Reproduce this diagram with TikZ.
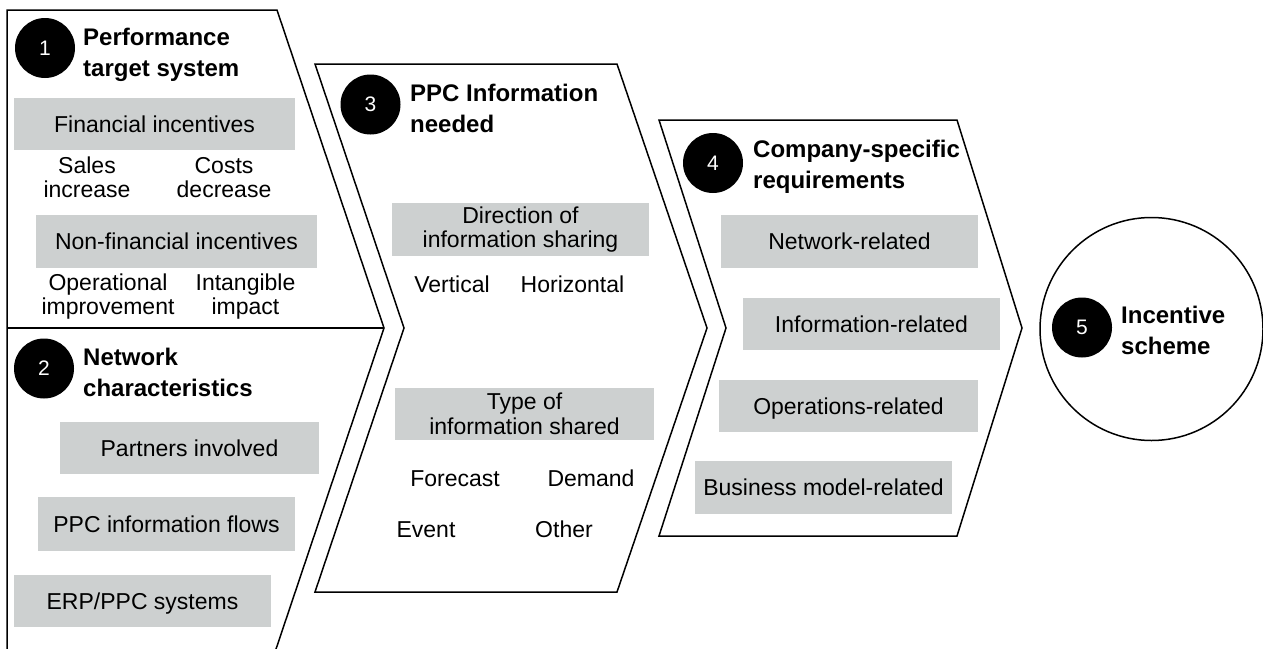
\documentclass[tikz,border=0pt]{standalone}
\usepackage{fontspec}
\setmainfont{Liberation Sans}
\definecolor{boxgray}{RGB}{205,208,208}
\begin{document}
\begin{tikzpicture}[x=1pt,y=-1pt,
  stage/.style={draw=black,line width=1.5pt,line join=miter},
  badge/.style={circle,fill=black,minimum size=60pt,inner sep=0pt,text=white,
    font=\fontsize{21}{21}\selectfont},
  head/.style={anchor=base west,align=left,inner sep=0pt,
    font=\bfseries\fontsize{24}{31}\selectfont},
  graybox/.style={fill=boxgray,inner sep=0pt,align=center,
    minimum width=257pt,minimum height=52pt,font=\fontsize{23}{24.5}\selectfont},
  oneline/.style={text height=16.5pt,text depth=0pt},
  item/.style={anchor=base,align=center,inner sep=0pt,
    font=\fontsize{23}{24.5}\selectfont}]
\useasboundingbox (0,0) rectangle (1263,648);
\clip (0,0) rectangle (1263,648);

% stage outlines
\draw[stage] (7,660) -- (7,10) -- (277,10) -- (384,328) -- (273,658);
\draw[stage] (7,328) -- (384,328);
\draw[stage] (315,64) -- (617,64) -- (707,328) -- (617,592) -- (315,592) -- (404,328) -- cycle;
\draw[stage] (659,120) -- (957,120) -- (1022,328) -- (957,536) -- (659,536) -- (726,328) -- cycle;
\node[stage,circle,minimum size=223pt,inner sep=0pt] (scheme) at (1151.5,329) {};

% stage 1 (multi-line texts are placed by the baseline of their last line)
\node[badge] (b1) at (45,48) {1};
\node[head] (h1) at (83,76) {Performance\\target system};
\node[graybox,oneline,minimum width=281pt] (fin) at (154.5,124) {Financial incentives};
\node[item] (sales) at (87,197.5) {Sales\\increase};
\node[item] (costs) at (224,197.5) {Costs\\decrease};
\node[graybox,oneline,minimum width=281pt,minimum height=53pt] (nonfin) at (176.5,241.5) {Non-financial incentives};
\node[item] (oper) at (108,314.5) {Operational\\improvement};
\node[item] (intang) at (245.5,314.5) {Intangible\\impact};

% stage 2
\node[badge] (b2) at (44,368.5) {2};
\node[head] (h2) at (83,396) {Network\\characteristics};
\node[graybox,oneline,minimum width=259pt] (partners) at (189.5,448) {Partners involved};
\node[graybox,oneline,minimum height=54pt] (flows) at (166.5,524) {PPC information flows};
\node[graybox,oneline] (erp) at (142.5,601) {ERP/PPC systems};

% stage 3
\node[badge] (b3) at (370.5,104.5) {3};
\node[head] (h3) at (410,132) {PPC Information\\needed};
\node[graybox,minimum height=53pt] (direction) at (520.5,229.5) {Direction of\\information sharing};
\node[item] (vertical) at (452,292) {Vertical};
\node[item] (horizontal) at (572.5,292) {Horizontal};
\node[graybox,minimum width=259pt] (type) at (524.5,414) {Type of\\information shared};
\node[item] (forecast) at (455,486) {Forecast};
\node[item] (demand) at (591,486) {Demand};
\node[item] (event) at (426,537) {Event};
\node[item] (other) at (564,537) {Other};

% stage 4
\node[badge] (b4) at (713,163) {4};
\node[head] (h4) at (753,188) {Company-specific\\requirements};
\node[graybox,oneline,minimum height=53pt] (netrel) at (849.5,241.5) {Network-related};
\node[graybox,oneline] (inforel) at (871.5,324) {Information-related};
\node[graybox,oneline,minimum width=259pt] (opsrel) at (848.5,406) {Operations-related};
\node[graybox,oneline,minimum height=53pt] (busrel) at (823.5,487.5) {Business model-related};

% stage 5
\node[badge] (b5) at (1082,327.5) {5};
\node[head] (h5) at (1121,354) {Incentive\\scheme};
\end{tikzpicture}
\end{document}
